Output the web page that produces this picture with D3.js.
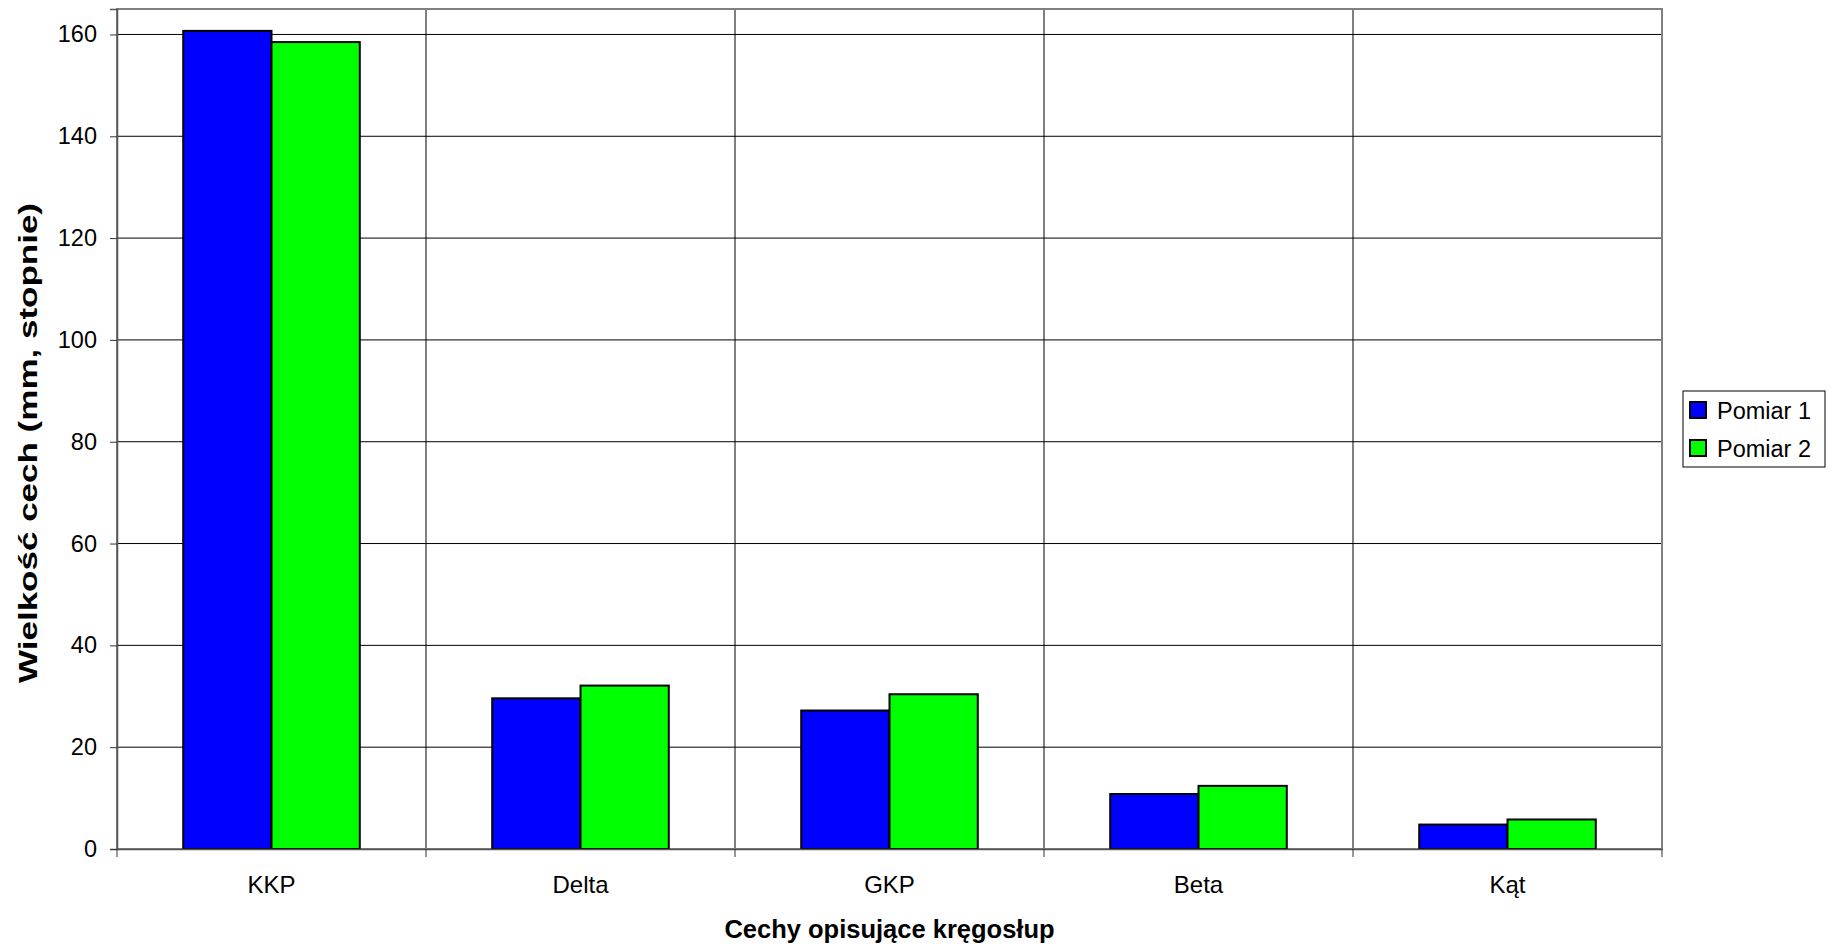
<!DOCTYPE html>
<html>
<head>
<meta charset="utf-8">
<script src="https://cdn.jsdelivr.net/npm/d3@7"></script>
<style>
  html, body { margin: 0; padding: 0; background: #fff; }
  svg { display: block; font-family: "Liberation Sans", Arial, sans-serif; }
</style>
</head>
<body>
<svg id="chart" width="1830" height="946"></svg>
<script>
// Spine feature measurements, two measurement sessions
const categories = ["KKP", "Delta", "GKP", "Beta", "Kąt"];
const seriesNames = ["Pomiar 1", "Pomiar 2"];
const pomiar1 = [160.7, 29.6, 27.2, 10.8, 4.8];
const pomiar2 = [158.5, 32.1, 30.4, 12.4, 5.8];
const seriesColors = ["#0000ff", "#00ff00"];
const yTicks = [0, 20, 40, 60, 80, 100, 120, 140, 160];
const yMax = 165;
const xTitle = "Cechy opisujące kręgosłup";
const yTitle = "Wielkość cech (mm, stopnie)";

const series = [pomiar1, pomiar2];
const rows = categories.map((c, i) => ({ cat: c, values: series.map(s => s[i]) }));

const svg = d3.select("#chart");
const plot = { left: 117, right: 1662, top: 9, bottom: 849 };

const x = d3.scaleBand().domain(categories).range([plot.left, plot.right]).padding(0);
const xInner = d3.scaleBand().domain(d3.range(seriesNames.length))
  .range([0, x.bandwidth()]).paddingInner(0).paddingOuter(0.75);
const y = d3.scaleLinear().domain([0, yMax]).range([plot.bottom, plot.top]);

// Horizontal gridlines
svg.append("g").selectAll("line").data(yTicks.filter(t => t > 0)).join("line")
  .attr("x1", plot.left).attr("x2", plot.right)
  .attr("y1", d => y(d)).attr("y2", d => y(d))
  .attr("stroke", "#000").attr("stroke-width", 1);

// Vertical gridlines at category boundaries
const bounds = categories.slice(1).map(c => x(c));
svg.append("g").selectAll("line").data(bounds).join("line")
  .attr("x1", d => d).attr("x2", d => d)
  .attr("y1", plot.top).attr("y2", plot.bottom)
  .attr("stroke", "#000").attr("stroke-width", 1);

// Plot area frame
svg.append("rect")
  .attr("x", plot.left).attr("y", plot.top)
  .attr("width", plot.right - plot.left).attr("height", plot.bottom - plot.top)
  .attr("fill", "none").attr("stroke", "#808080").attr("stroke-width", 2);

// Bars
const groups = svg.append("g").selectAll("g").data(rows).join("g")
  .attr("transform", d => `translate(${x(d.cat)},0)`);
groups.selectAll("rect").data(d => d.values.map((v, i) => ({ v, i }))).join("rect")
  .attr("x", d => xInner(d.i))
  .attr("y", d => y(d.v))
  .attr("width", xInner.bandwidth())
  .attr("height", d => y(0) - y(d.v))
  .attr("fill", d => seriesColors[d.i])
  .attr("stroke", "#000").attr("stroke-width", 2);

// Y axis
const yAxis = svg.append("g").attr("transform", `translate(${plot.left},0)`)
  .call(d3.axisLeft(y).tickValues(yTicks).tickSize(7).tickPadding(13).tickFormat(d3.format("d")));
yAxis.select(".domain").attr("stroke", "#555").attr("stroke-width", 1.5);
yAxis.selectAll(".tick line").attr("stroke", "#333");
yAxis.selectAll("text").attr("font-size", 23.5).attr("fill", "#000")
  .attr("font-family", "Liberation Sans, Arial, sans-serif");

// X axis: labels centred in each band, ticks at band boundaries
const xAxis = svg.append("g").attr("transform", `translate(0,${plot.bottom})`)
  .call(d3.axisBottom(x).tickSize(0).tickPadding(27));
xAxis.select(".domain").attr("stroke", "#555").attr("stroke-width", 1.5);
xAxis.selectAll("text").attr("font-size", 24).attr("fill", "#000")
  .attr("font-family", "Liberation Sans, Arial, sans-serif");
const edgeTicks = categories.map(c => x(c)).concat([x(categories[categories.length - 1]) + x.bandwidth()]);
svg.append("g").selectAll("line").data(edgeTicks).join("line")
  .attr("x1", d => d).attr("x2", d => d)
  .attr("y1", plot.bottom).attr("y2", plot.bottom + 8)
  .attr("stroke", "#333").attr("stroke-width", 1);

// Axis titles
svg.append("text")
  .attr("x", (plot.left + plot.right) / 2).attr("y", 938)
  .attr("text-anchor", "middle").attr("font-weight", "bold").attr("font-size", 25.5)
  .text(xTitle);
svg.append("text")
  .attr("transform", `translate(37,443) rotate(-90)`)
  .attr("text-anchor", "middle").attr("font-weight", "bold").attr("font-size", 25.5)
  .attr("textLength", 480).attr("lengthAdjust", "spacingAndGlyphs")
  .text(yTitle);

// Legend
const legend = svg.append("g").attr("transform", "translate(1683,391)");
legend.append("rect").attr("width", 142).attr("height", 76)
  .attr("fill", "#fff").attr("stroke", "#000").attr("stroke-width", 1);
const items = legend.selectAll("g").data(seriesNames).join("g")
  .attr("transform", (d, i) => `translate(7,${11 + i * 38})`);
items.append("rect").attr("width", 16).attr("height", 16)
  .attr("fill", (d, i) => seriesColors[i]).attr("stroke", "#000").attr("stroke-width", 2);
items.append("text").attr("x", 27).attr("y", 16.5).attr("font-size", 23.5).text(d => d);
</script>
</body>
</html>
